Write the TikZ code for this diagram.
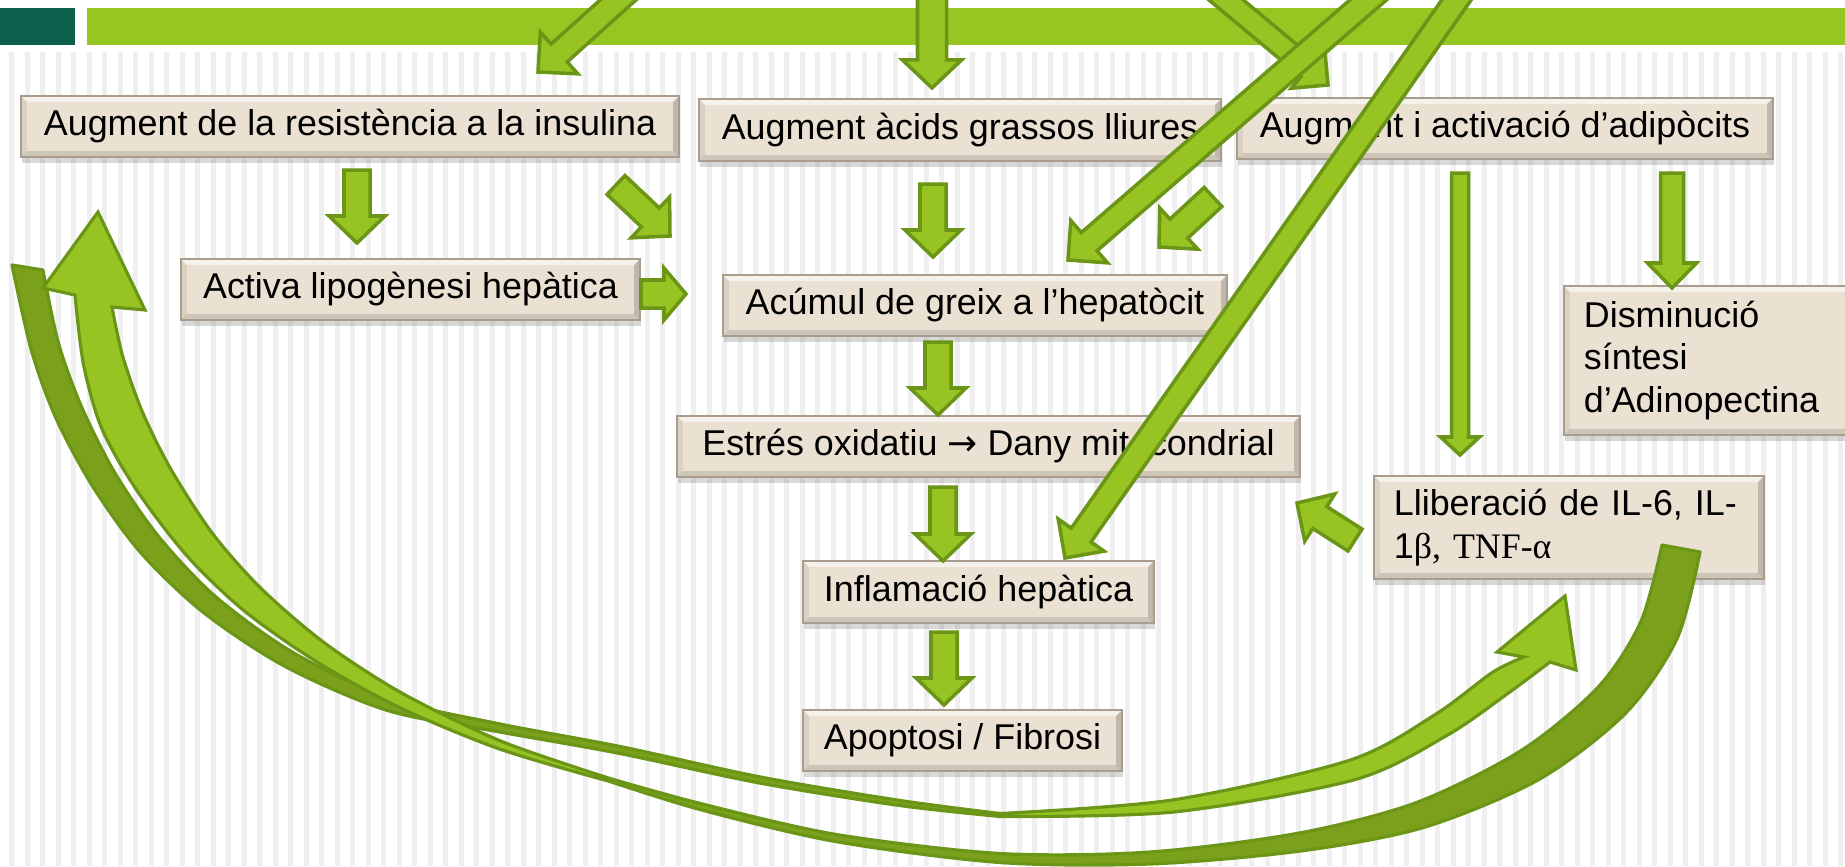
\documentclass[tikz,border=0pt]{standalone}
\usepackage{fontspec}
\setmainfont{Liberation Sans}
\newfontfamily\serifgr{Liberation Serif}
\newfontfamily\arrowfont{DejaVu Sans}
\usetikzlibrary{calc}
\usetikzlibrary{shadows}

\definecolor{bargreen}{HTML}{97C521}
\definecolor{barteal}{HTML}{0D5F4B}
\definecolor{arrowfill}{HTML}{97C423}
\definecolor{arrowline}{HTML}{6A9516}
\definecolor{bandfill}{HTML}{7BA11C}
\definecolor{boxfill}{HTML}{EBE1D3}
\definecolor{boxline}{HTML}{A99C8C}
\definecolor{stripe}{HTML}{EFEFEF}

\def\bev{1.7pt}
\tikzset{
  box/.style={draw=boxline, fill=boxfill, line width=0.5pt, inner sep=0pt,
    font=\fontsize{10.2pt}{12.2pt}\selectfont, minimum height=0.61cm,
    drop shadow={shadow xshift=0.3pt, shadow yshift=-1.8pt, opacity=0.3},
    path picture={
      \fill[white,opacity=.55] (path picture bounding box.north west) -- (path picture bounding box.north east)
        -- ([xshift=-\bev,yshift=-\bev]path picture bounding box.north east) -- ([xshift=\bev,yshift=-\bev]path picture bounding box.north west) -- cycle;
      \fill[black,opacity=.12] (path picture bounding box.south west) -- (path picture bounding box.south east)
        -- ([xshift=-\bev,yshift=\bev]path picture bounding box.south east) -- ([xshift=\bev,yshift=\bev]path picture bounding box.south west) -- cycle;
      \fill[black,opacity=.18] (path picture bounding box.north east) -- (path picture bounding box.south east)
        -- ([xshift=-\bev,yshift=\bev]path picture bounding box.south east) -- ([xshift=-\bev,yshift=-\bev]path picture bounding box.north east) -- cycle;
      \fill[black,opacity=.07] (path picture bounding box.north west) -- (path picture bounding box.south west)
        -- ([xshift=\bev,yshift=\bev]path picture bounding box.south west) -- ([xshift=\bev,yshift=-\bev]path picture bounding box.north west) -- cycle;
    }},
  blockarr/.style={fill=arrowfill, draw=arrowline, line width=1pt, line join=miter},
  bandback/.style={fill=bandfill, draw=arrowline, line width=0.9pt, line join=round},
  bandfront/.style={fill=arrowfill, draw=arrowline, line width=0.9pt, line join=miter},
}

% block arrow: from, to, shaft half width, head half width, head length
\newcommand\blockarrow[5]{%
  \draw[blockarr] let \p1=(#1), \p2=(#2), \n1={atan2(\y2-\y1,\x2-\x1)}, \n2={veclen(\x2-\x1,\y2-\y1)} in
    ($(\p1)+(\n1+90:#3)$) -- ($(\p1)+(\n1:\n2-#5)+(\n1+90:#3)$) -- ($(\p1)+(\n1:\n2-#5)+(\n1+90:#4)$) -- (\p2)
    -- ($(\p1)+(\n1:\n2-#5)+(\n1-90:#4)$) -- ($(\p1)+(\n1:\n2-#5)+(\n1-90:#3)$) -- ($(\p1)+(\n1-90:#3)$) -- cycle;
}

\begin{document}
\begin{tikzpicture}[x=0.01cm, y=-0.01cm]
  \useasboundingbox (0,0) rectangle (1845,866);
  \clip (0,0) rectangle (1845,866);

  %background stripes
  \foreach \i in {0,...,118}{
    \fill[stripe] (9+\i*15.5,52) rectangle ++(5,814);
  }

  %title bar
  \fill[barteal] (0,8) rectangle (75,45);
  \fill[bargreen] (87,8) rectangle (1845,45);

  %boxes
  \node[box, minimum width=6.58cm] (ins) at (350,126.5) {Augment de la resistència a la insulina};
  \node[box, minimum width=4.59cm] (lipo) at (410.5,289.5) {Activa lipogènesi hepàtica};
  \node[box, minimum width=5.22cm, minimum height=0.62cm] (agl) at (960,130) {Augment àcids grassos lliures};
  \node[box, minimum width=5.36cm] (adip) at (1505,128.5) {Augment i activació d’adipòcits};
  \node[box, minimum width=5.04cm] (acum) at (975,305.5) {Acúmul de greix a l’hepatòcit};
  \node[box, minimum width=6.23cm] (estres) at (988.5,446.5) {Estrés oxidatiu {\arrowfont →} Dany mitocondrial};
  \node[box, minimum width=3.51cm, minimum height=0.62cm] (infl) at (978.5,592) {Inflamació hepàtica};
  \node[box, minimum width=3.19cm] (apop) at (962.5,740.5) {Apoptosi / Fibrosi};
  \node[box, anchor=west, align=left, text width=2.6cm, inner xsep=0.2cm, minimum height=1.49cm] (dism) at (1563,360.5)
    {Disminució\\síntesi\\d’Adinopectina};
  \node[box, anchor=west, align=left, text width=3.5cm, inner xsep=0.2cm, minimum height=1.03cm] (llib) at (1373,527.5)
    {Lliberació de IL-6, IL-\\1{\serifgr β, TNF-α}};

  %arrow ends
  \foreach \nm/\x/\y in {v1s/357/170, v1e/357/243, v2s/933/184, v2e/933/257, v3s/938/342, v3e/938/415,
      v4s/943/487, v4e/943/561, v5s/944/632, v5e/944/705, v6s/1460/173, v6e/1460/455, v7s/1672/173, v7e/1672/288,
      h1s/641/294, h1e/686/294, d1s/616/185, d1e/670/236, d2s/1213/197, d2e/1159/247, d3s/1355/540, d3e/1297/503,
      t1s/698/-72, t1e/538/72, t2s/932/-20, t2e/932/88, t3s/1140/-72, t3e/1328/85,
      las/1457/-77, lae/1068/260, lbs/1535/-112, lbe/1065/558}{
    \coordinate (\nm) at (\x,\y);
  }

  %feedback arrows
  \filldraw[bandback] plot[smooth] coordinates {(12,265) (31.5,350.8) (56.2,418.7) (92.9,486.8) (140.8,552.8) (203.7,612.7)
      (286.1,667) (388.2,710.7) (499.2,731.9) (619.3,753.4) (759.4,783) (899.6,805.5) (1000,816.5)}
    -- plot[smooth] coordinates {(1000,813.5) (900.4,800.5) (760.6,777) (620.7,746.6) (500.8,724.1) (391.8,699.3)
      (293.9,653) (216.4,597.3) (159.2,537.2) (115.1,473.2) (81.8,407.3) (58.5,343.2) (43,270)} -- cycle;
  \filldraw[bandfront] plot[smooth] coordinates {(1000,816.5) (1173.8,812) (1354.9,779.6) (1447.1,735.3) (1507.3,693.8) (1550,662)}
    -- (1576,670) -- (1565,596) -- (1497,652)
    -- plot[smooth] coordinates {(1524,657) (1492.7,672.2) (1434.9,714.7) (1349.1,760.4) (1172.2,800) (1000,813.5)} -- cycle;
  \filldraw[bandback] plot[smooth] coordinates {(609.6,781.4) (701.3,809.9) (835.4,841.5) (999.7,862.5) (1150.3,864)
      (1301.4,850.9) (1424.1,827.3) (1538.7,779.6) (1625.7,713.1) (1677.2,638.3) (1700,552)}
    -- plot[smooth] coordinates {(1662,545) (1640.8,621.7) (1598.3,686.9) (1521.3,750.4) (1415.9,802.7) (1298.6,833.1)
      (1149.7,852) (1000.3,853.5) (836.6,834.5) (702.7,804.1) (610.4,778.6)} -- cycle;
  \filldraw[bandfront] plot[smooth] coordinates {(75,295) (83.5,364.5) (101.8,428.6) (137,490.6) (186.9,555.8) (243.7,610.4)
      (314.4,660.3) (396.8,706.2) (498.6,748.7) (609.6,781.4)}
    -- plot[smooth] coordinates {(610.4,778.6) (501.4,741.3) (403.2,693.8) (325.6,643.7) (262.3,589.6) (213.1,534.2)
      (171,469.4) (142.2,411.4) (122.5,355.5) (112,307)}
    -- (145,310) -- (98,212) -- (43,288) -- cycle;

  %arrows between boxes
  \def\sw{0.13cm}\def\hw{0.28cm}\def\hl{0.27cm}
  \foreach \a in {v1,v2,v3,v4,v5,d1,d2,d3}{
    \blockarrow{\a s}{\a e}{\sw}{\hw}{\hl}
  }
  \blockarrow{h1s}{h1e}{0.14cm}{0.26cm}{0.22cm}
  \blockarrow{v6s}{v6e}{0.085cm}{0.195cm}{0.18cm}
  \blockarrow{v7s}{v7e}{0.115cm}{0.245cm}{0.25cm}

  %arrows from above
  \blockarrow{t1s}{t1e}{0.12cm}{0.28cm}{0.28cm}
  \blockarrow{t2s}{t2e}{0.145cm}{0.295cm}{0.28cm}
  \blockarrow{t3s}{t3e}{0.11cm}{0.26cm}{0.26cm}
  \blockarrow{las}{lae}{0.12cm}{0.28cm}{0.28cm}
  \blockarrow{lbs}{lbe}{0.12cm}{0.28cm}{0.28cm}
\end{tikzpicture}
\end{document}
